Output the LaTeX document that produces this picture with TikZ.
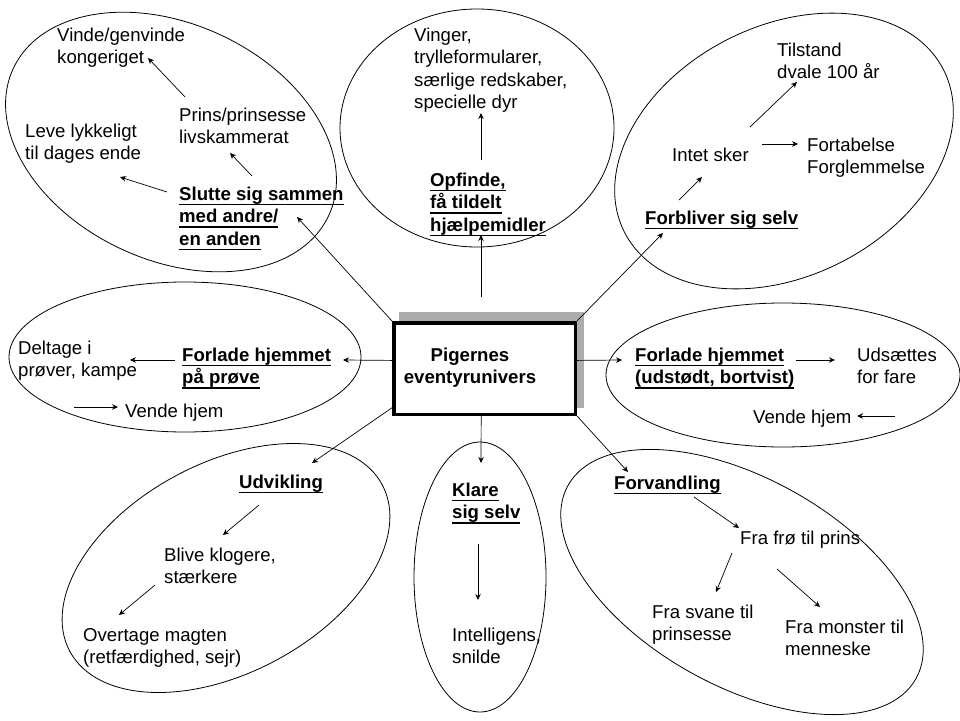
\documentclass[tikz,border=0pt]{standalone}
\usepackage{fontspec}
\setmainfont{Liberation Sans}
\usetikzlibrary{arrows.meta}

% underlined heading line
\newcommand{\hd}[1]{\setbox0\hbox{#1}\rlap{\rule[-5pt]{\wd0}{1.4pt}}\box0}

\begin{document}
\begin{tikzpicture}[x=1pt, y=1pt, font=\fontsize{18.6}{22.6}\selectfont,
    txt/.style = {anchor=base west, align=left, inner sep=0pt},
    head/.style = {txt, font=\fontsize{18.6}{22.6}\selectfont\bfseries},
    bubble/.style = {draw, line width=0.8pt},
    arr/.style = {-{Stealth[length=6pt,width=5.5pt]}, line width=0.7pt}]
    \useasboundingbox (0,0) rectangle (960,-720);

    % bubbles
    \draw[bubble, rotate around={-25:(171,-142)}] (171,-142) ellipse [x radius=174, y radius=118];
    \draw[bubble] (477,-128) ellipse [x radius=137, y radius=119];
    \draw[bubble, rotate around={27:(784,-151)}] (784,-151) ellipse [x radius=179, y radius=125];
    \draw[bubble] (185,-357) ellipse [x radius=176, y radius=75];
    \draw[bubble] (783,-375) ellipse [x radius=177, y radius=72];
    \draw[bubble, rotate around={28:(226,-568)}] (226,-568) ellipse [x radius=177, y radius=105];
    \draw[bubble] (480,-577) ellipse [x radius=66, y radius=135];
    \draw[bubble, rotate around={-29:(742,-582)}] (742,-582) ellipse [x radius=199, y radius=104];

    % centre box
    \fill[gray!65] (399,-312) rectangle (584,-408);
    \node[draw, fill=white, line width=3.5pt, minimum width=181.5pt, minimum height=91.5pt, inner sep=0pt] (hub) at (484.5,-368.5) {};
    \node[anchor=base, align=center, inner sep=0pt, font=\fontsize{18.6}{22}\selectfont\bfseries] (hubtxt) at (470,-383) {Pigernes\\eventyrunivers};

    % top left
    \node[txt] (vinde) at (57,-63.6) {Vinde/genvinde\\kongeriget};
    \node[txt] (prins) at (179,-143.6) {Prins/prinsesse\\livskammerat};
    \node[txt] (leve) at (25,-159.6) {Leve lykkeligt\\til dages ende};
    \node[head] (slutte) at (179,-245.2) {\hd{Slutte sig sammen}\\\hd{med andre/}\\\hd{en anden}};
    % top middle
    \node[txt] (vinger) at (414,-108.8) {Vinger,\\trylleformularer,\\særlige redskaber,\\specielle dyr};
    \node[head] (opfinde) at (430,-231.2) {\hd{Opfinde,}\\\hd{få tildelt}\\\hd{hjælpemidler}};
    % top right
    \node[txt] (tilstand) at (777,-78.6) {Tilstand\\dvale 100 år};
    \node[txt] (intet) at (672,-161) {Intet sker};
    \node[txt] (fortab) at (807,-173.6) {Fortabelse\\Forglemmelse};
    \node[head] (forbliver) at (645,-224) {\hd{Forbliver sig selv}};
    % middle left
    \node[txt] (deltage) at (18,-376.6) {Deltage i\\prøver, kampe};
    \node[head] (forladeA) at (182,-383.6) {\hd{Forlade hjemmet}\\\hd{på prøve}};
    \node[txt] (vendeA) at (125,-417) {Vende hjem};
    % middle right
    \node[head] (forladeB) at (635,-383.6) {\hd{Forlade hjemmet}\\\hd{(udstødt, bortvist)}};
    \node[txt] (udsaet) at (857,-383.6) {Udsættes\\for fare};
    \node[txt] (vendeB) at (753,-423) {Vende hjem};
    % bottom left
    \node[head] (udvikling) at (239,-488) {\hd{Udvikling}};
    \node[txt] (blive) at (164,-583.6) {Blive klogere,\\stærkere};
    \node[txt] (overtage) at (83,-663.6) {Overtage magten\\(retfærdighed, sejr)};
    % bottom middle
    \node[head] (klare) at (452,-518.6) {\hd{Klare}\\\hd{sig selv}};
    \node[txt] (intell) at (452,-663.6) {Intelligens,\\snilde};
    % bottom right
    \node[head] (forvand) at (614,-489) {\hd{Forvandling}};
    \node[txt] (froe) at (740,-544) {Fra frø til prins};
    \node[txt] (svane) at (652,-640.6) {Fra svane til\\prinsesse};
    \node[txt] (monster) at (785,-655.6) {Fra monster til\\menneske};

    % arrow ends
    \coordinate (a1) at (185,-97);  \coordinate (b1) at (148,-58);
    \coordinate (a2) at (252,-176); \coordinate (b2) at (230,-153);
    \coordinate (a3) at (167,-192); \coordinate (b3) at (120,-177);
    \coordinate (b4) at (297,-217);
    \coordinate (a5) at (481,-160); \coordinate (b5) at (481,-113);
    \coordinate (a6) at (481,-297); \coordinate (b6) at (481,-235);
    \coordinate (a7) at (750,-127); \coordinate (b7) at (797,-82);
    \coordinate (a8) at (762,-144); \coordinate (b8) at (798,-144);
    \coordinate (a9) at (679,-200); \coordinate (b9) at (702,-177);
    \coordinate (b10) at (663,-233);
    \coordinate (a11) at (175,-360); \coordinate (b11) at (130,-360);
    \coordinate (b12) at (343,-360);
    \coordinate (a13) at (74,-407);  \coordinate (b13) at (118,-407);
    \coordinate (a14) at (796,-360); \coordinate (b14) at (835,-360);
    \coordinate (b15) at (622,-360);
    \coordinate (a16) at (895,-416); \coordinate (b16) at (857,-416);
    \coordinate (a17) at (259,-505); \coordinate (b17) at (223,-535);
    \coordinate (a18) at (155,-585); \coordinate (b18) at (119,-615);
    \coordinate (b19) at (312,-463);
    \coordinate (b20) at (481,-463);
    \coordinate (a21) at (478,-544); \coordinate (b21) at (478,-600);
    \coordinate (a22) at (694,-497); \coordinate (b22) at (739,-528);
    \coordinate (a23) at (732,-553); \coordinate (b23) at (716,-592);
    \coordinate (a24) at (777,-569); \coordinate (b24) at (820,-607);
    \coordinate (b25) at (628,-472);

    % connectors from the box
    \draw[arr] (hub.north west) -- (b4);
    \draw[arr] (a6) -- (b6);
    \draw[arr] (hub.north east) -- (b10);
    \draw[arr] (hub.175) -- (b12);
    \draw[arr] (hub.5) -- (b15);
    \draw[arr] (hub.203) -- (b19);
    \draw[arr] (hub.266) -- (b20);
    \draw[arr] (hub.south east) -- (b25);
    % inside the bubbles
    \foreach \i in {1,2,3,5,7,8,9,11,13,14,16,17,18,21,22,23,24}
        \draw[arr] (a\i) -- (b\i);
\end{tikzpicture}
\end{document}
